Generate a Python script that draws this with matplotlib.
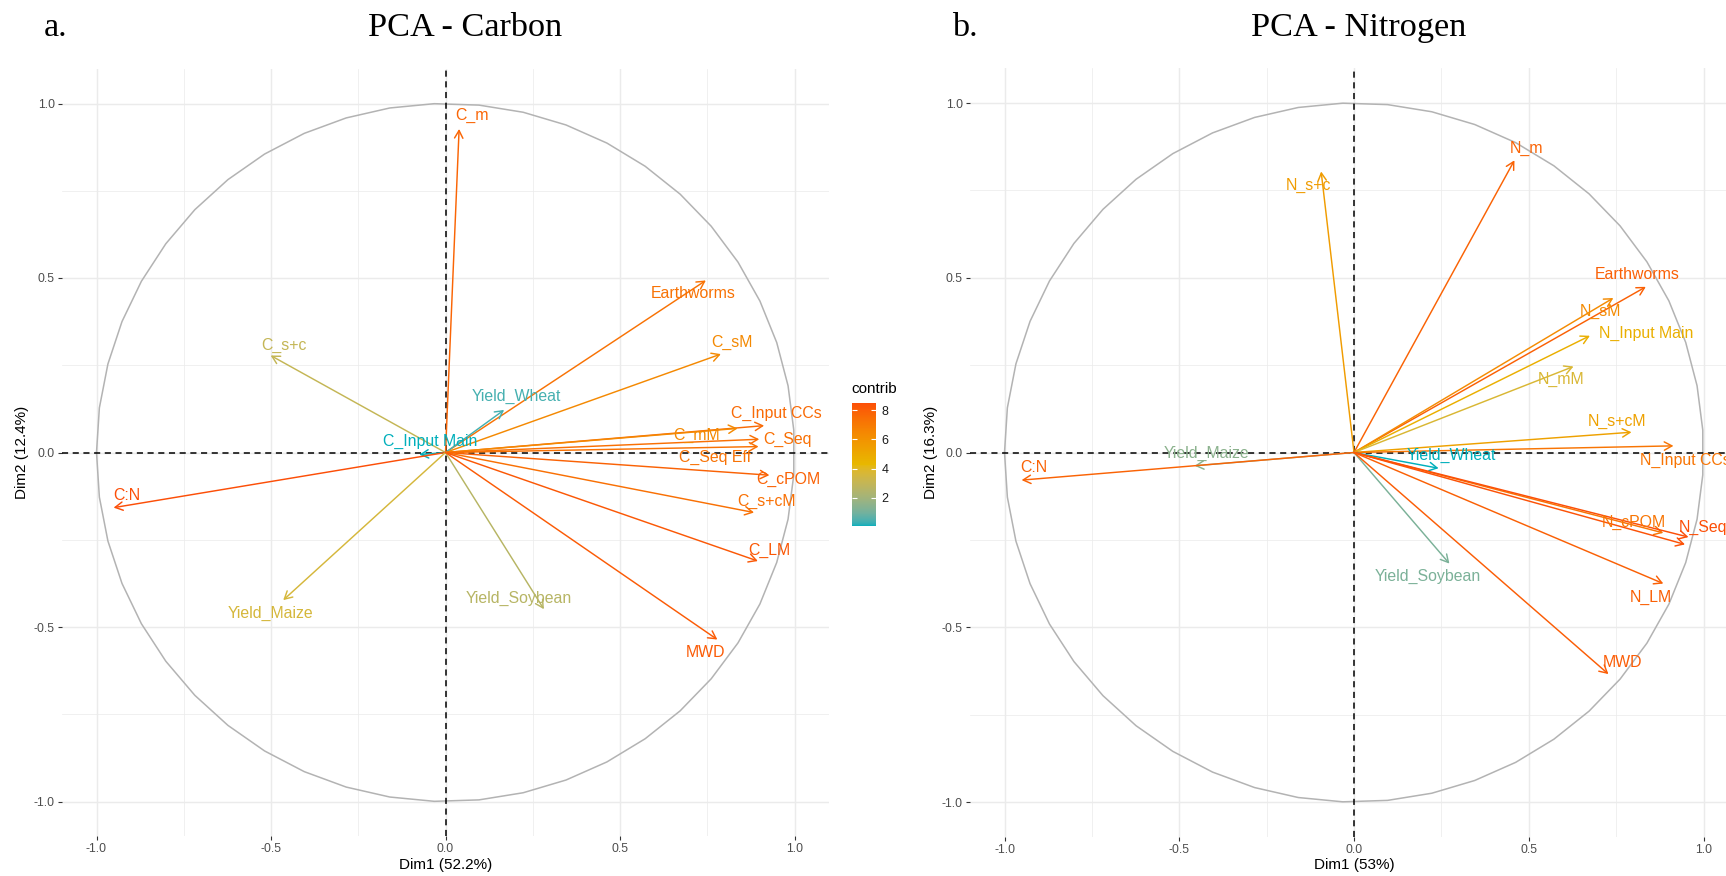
import numpy as np
import matplotlib.pyplot as plt
import matplotlib.colors as mcolors
from matplotlib.cm import ScalarMappable
from matplotlib.ticker import FormatStrFormatter

plt.rcParams['font.family'] = ['Liberation Sans', 'DejaVu Sans']
plt.rcParams['axes.unicode_minus'] = False

# variable coordinates on Dim1 / Dim2 and their contributions
c_vars = ["C_m", "Earthworms", "C_sM", "C_s+c", "Yield_Wheat", "C_Input Main",
          "C_Input CCs", "C_mM", "C_Seq", "C_Seq Eff", "C:N", "C_cPOM", "C_s+cM",
          "C_LM", "Yield_Maize", "Yield_Soybean", "MWD"]
c_dim1 = [0.039, 0.746, 0.789, -0.501, 0.168, -0.075, 0.913, 0.837, 0.899, 0.897,
          -0.951, 0.928, 0.884, 0.895, -0.465, 0.282, 0.779]
c_dim2 = [0.927, 0.493, 0.282, 0.278, 0.122, -0.006, 0.077, 0.069, 0.038, 0.017,
          -0.158, -0.065, -0.172, -0.311, -0.423, -0.449, -0.536]
c_contrib = [7.8, 7.3, 6.4, 3.0, 0.4, 0.05, 7.6, 6.4, 7.4, 7.3, 8.5, 7.9, 7.4, 8.2,
             3.6, 2.6, 8.1]

n_vars = ["N_m", "N_s+c", "Earthworms", "N_sM", "N_Input Main", "N_mM", "N_s+cM",
          "N_Input CCs", "Yield_Wheat", "Yield_Maize", "C:N", "Yield_Soybean",
          "N_cPOM", "N_Seq", "N_Seq Eff", "N_LM", "MWD"]
n_dim1 = [0.459, -0.094, 0.835, 0.742, 0.675, 0.628, 0.794, 0.914, 0.242, -0.456,
          -0.951, 0.273, 0.885, 0.957, 0.947, 0.885, 0.728]
n_dim2 = [0.836, 0.804, 0.474, 0.442, 0.334, 0.246, 0.058, 0.019, -0.045, -0.038,
          -0.079, -0.318, -0.230, -0.242, -0.263, -0.375, -0.634]
n_contrib = [7.7, 5.6, 7.8, 6.3, 4.8, 3.9, 5.4, 7.1, 0.5, 1.8, 7.7, 1.5, 7.1, 8.3,
             8.2, 7.8, 7.9]

# label nudges (repelled text), relative to the arrow tips; None = label falls off the page
c_label_off = [(0.036, 0.040), (-0.037, -0.036), (0.032, 0.034), (0.037, 0.030),
               (0.035, 0.038), (0.032, 0.039), (0.035, 0.035), (-0.118, -0.019),
               (0.081, 0.0), (-0.125, -0.031), (0.037, 0.035), (0.055, -0.011),
               (0.035, 0.031), (0.033, 0.031), (-0.037, -0.038), (-0.072, 0.031),
               (-0.033, -0.038)]
n_label_off = [(0.034, 0.033), (-0.035, -0.039), (-0.025, 0.035), (-0.037, -0.038),
               (0.161, 0.008), (-0.036, -0.038), (-0.041, 0.032), (0.034, -0.041),
               (0.038, 0.036), (0.035, 0.036), (0.034, 0.036), (-0.062, -0.038),
               (-0.084, 0.031), (0.041, 0.029), None, (-0.037, -0.039),
               (0.041, 0.034)]

grad_cols = ["#00AFBB", "#E7B800", "#FC4E07"]

M = np.array([[0.4124564, 0.3575761, 0.1804375],
              [0.2126729, 0.7151522, 0.0721750],
              [0.0193339, 0.1191920, 0.9503041]])
WHITE = np.array([0.95047, 1.0, 1.08883])


def rgb_to_lab(rgb):
    lin = np.where(rgb > 0.04045, ((rgb + 0.055) / 1.055) ** 2.4, rgb / 12.92)
    xyz = lin @ M.T / WHITE
    f = np.where(xyz > 0.008856, np.cbrt(xyz), 7.787 * xyz + 16 / 116)
    return np.column_stack([116 * f[:, 1] - 16, 500 * (f[:, 0] - f[:, 1]),
                            200 * (f[:, 1] - f[:, 2])])


def lab_to_rgb(lab):
    fy = (lab[:, 0] + 16) / 116
    f = np.column_stack([fy + lab[:, 1] / 500, fy, fy - lab[:, 2] / 200])
    xyz = np.where(f > 0.206893, f ** 3, (f - 16 / 116) / 7.787) * WHITE
    lin = np.clip(xyz @ np.linalg.inv(M).T, 0, 1)
    return np.where(lin > 0.0031308, 1.055 * lin ** (1 / 2.4) - 0.055, 12.92 * lin)


def lab_gradient(hex_colors, n=256):
    lab = rgb_to_lab(np.array([mcolors.to_rgb(h) for h in hex_colors]))
    pos = np.linspace(0, 1, len(hex_colors))
    t = np.linspace(0, 1, n)
    lab_i = np.column_stack([np.interp(t, pos, lab[:, k]) for k in range(3)])
    return mcolors.ListedColormap(np.clip(lab_to_rgb(lab_i), 0, 1))


cmap = lab_gradient(grad_cols)

W, H = 1726, 876
fig = plt.figure(figsize=(W / 100, H / 100), dpi=100)


def add_px_axes(cx, cy, scale):
    half = 1.1 * scale
    return fig.add_axes([(cx - half) / W, 1 - (cy + half) / H, 2 * half / W, 2 * half / H])


def var_plot(ax, names, d1, d2, contrib, offsets, xlab, ylab, ylab_x):
    norm = mcolors.Normalize(min(contrib), max(contrib))
    ax.set_xlim(-1.1, 1.1)
    ax.set_ylim(-1.1, 1.1)
    for s in ax.spines.values():
        s.set_visible(False)
    major = [-1, -0.5, 0, 0.5, 1]
    minor = [-0.75, -0.25, 0.25, 0.75]
    ax.set_xticks(major)
    ax.set_yticks(major)
    ax.set_xticks(minor, minor=True)
    ax.set_yticks(minor, minor=True)
    ax.xaxis.set_major_formatter(FormatStrFormatter('%.1f'))
    ax.yaxis.set_major_formatter(FormatStrFormatter('%.1f'))
    ax.grid(which='major', color='#EBEBEB', lw=1.07)
    ax.grid(which='minor', color='#EBEBEB', lw=0.53)
    ax.set_axisbelow(True)
    ax.tick_params(which='major', length=2.75, width=0.8, color='#333333',
                   labelcolor='#4D4D4D', labelsize=8.8, pad=2.2)
    ax.tick_params(which='minor', length=0)

    theta = np.linspace(-np.pi, np.pi, 50)
    ax.plot(np.cos(theta), np.sin(theta), color='#B3B3B3', lw=1.1, zorder=1)
    ax.axhline(0, color='black', ls=(0, (4, 3)), lw=1.1, zorder=2)
    ax.axvline(0, color='black', ls=(0, (4, 3)), lw=1.1, zorder=2)

    for name, x, y, c, off in zip(names, d1, d2, contrib, offsets):
        col = cmap(norm(c))
        ax.annotate("", xy=(x, y), xytext=(0, 0),
                    arrowprops=dict(arrowstyle='->,head_length=0.55,head_width=0.3',
                                    color=col, lw=1.05, shrinkA=0, shrinkB=0),
                    zorder=3)
        if off is not None:
            ax.text(x + off[0], y + off[1], name, color=col, fontsize=11.4,
                    ha='center', va='center', zorder=4)

    ax.set_xlabel(xlab, fontsize=11)
    ax.set_ylabel(ylab, fontsize=11)
    ax.xaxis.set_label_coords(0.5, -0.037)
    ax.yaxis.set_label_coords(ylab_x, 0.5)
    ax.xaxis.label.set_va('center')
    ax.yaxis.label.set_va('center')
    return norm


ax1 = add_px_axes(445.5, 452.5, 349)
norm1 = var_plot(ax1, c_vars, c_dim1, c_dim2, c_contrib, c_label_off,
                 "Dim1 (52.2%)", "Dim2 (12.4%)", -0.052)

ax2 = add_px_axes(1354, 452.5, 349.5)
var_plot(ax2, n_vars, n_dim1, n_dim2, n_contrib, n_label_off,
         "Dim1 (53%)", "Dim2 (16.3%)", -0.050)

# contribution colour bar
cax = fig.add_axes([851.7 / W, 1 - 526 / H, 24 / W, 123 / H])
cb = fig.colorbar(ScalarMappable(norm=norm1, cmap=cmap), cax=cax)
cb.outline.set_visible(False)
cb.set_ticks([2, 4, 6, 8])
cax.tick_params(axis='y', direction='in', length=3.5, width=0.8, color='white',
                left=True, right=True, labelsize=9, labelcolor='#1A1A1A', pad=4)
fig.text(851.7 / W, 1 - 389 / H, "contrib", fontsize=11, va='center', ha='left')

serif = ['Liberation Serif', 'DejaVu Serif']
fig.text(44 / W, 1 - 36 / H, "a.", family=serif, fontsize=24.7, va='baseline')
fig.text(465 / W, 1 - 36 / H, "PCA - Carbon", family=serif, fontsize=24.7,
         ha='center', va='baseline')
fig.text(952 / W, 1 - 36 / H, "b.", family=serif, fontsize=24.7, va='baseline')
fig.text(1358.5 / W, 1 - 36 / H, "PCA - Nitrogen", family=serif, fontsize=24.7,
         ha='center', va='baseline')

fig.savefig("out.png", dpi=100)
